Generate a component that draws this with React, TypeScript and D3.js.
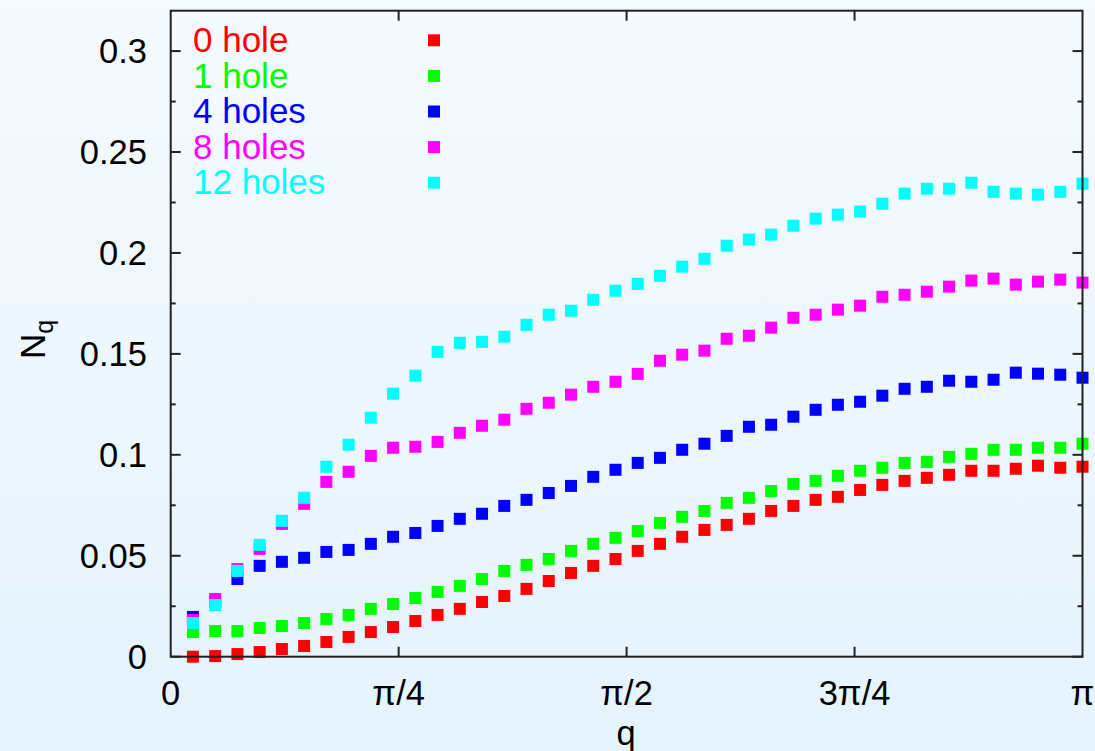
import React from "react";
import * as d3 from "d3";

// Momentum index k: q = k * π / 41, k = 1..41
const kIndex: number[] = d3.range(1, 42);
const NK = 41;

const seriesNames: string[] = ["0 hole", "1 hole", "4 holes", "8 holes", "12 holes"];
const seriesColors: string[] = ["#ff0000", "#00ff00", "#0000ff", "#ff00ff", "#00ffff"];

const hole0: number[] = [
  0.0, 0.0003, 0.0013, 0.0023, 0.0038, 0.0053, 0.0073, 0.0098, 0.0122, 0.0147,
  0.0177, 0.0207, 0.0237, 0.0271, 0.0301, 0.0336, 0.0375, 0.0415, 0.045, 0.0484,
  0.0524, 0.0559, 0.0594, 0.0628, 0.0653, 0.0683, 0.0722, 0.0747, 0.0777, 0.0792,
  0.0826, 0.0851, 0.0871, 0.0886, 0.0901, 0.0921, 0.0921, 0.0931, 0.0946, 0.0936,
  0.0941,
];
const hole1: number[] = [
  0.0122, 0.0127, 0.0127, 0.0142, 0.0152, 0.0167, 0.0187, 0.0207, 0.0237, 0.0261,
  0.0291, 0.0321, 0.0351, 0.0385, 0.0425, 0.0455, 0.0484, 0.0524, 0.0559, 0.0589,
  0.0623, 0.0663, 0.0693, 0.0722, 0.0762, 0.0787, 0.0821, 0.0856, 0.0871, 0.0896,
  0.0921, 0.0936, 0.096, 0.0965, 0.099, 0.1005, 0.1025, 0.1025, 0.1035, 0.1035,
  0.1055,
];
const holes4: number[] = [
  0.0197, 0.027, 0.0385, 0.045, 0.047, 0.049, 0.0519, 0.0529, 0.0559, 0.0594,
  0.0613, 0.0648, 0.0683, 0.0708, 0.0747, 0.0777, 0.0811, 0.0846, 0.0891, 0.0926,
  0.096, 0.0985, 0.1025, 0.1055, 0.1094, 0.1139, 0.1149, 0.1189, 0.1223, 0.1248,
  0.1263, 0.1293, 0.1327, 0.1337, 0.1367, 0.1362, 0.1372, 0.1407, 0.1402, 0.1397,
  0.1382,
];
const holes8: number[] = [
  0.0182, 0.0286, 0.0434, 0.0534, 0.0658, 0.0757, 0.0866, 0.0916, 0.0995, 0.1035,
  0.104, 0.1064, 0.1109, 0.1144, 0.1174, 0.1228, 0.1258, 0.1298, 0.1337, 0.1362,
  0.1401, 0.1466, 0.1496, 0.1516, 0.1575, 0.159, 0.163, 0.1679, 0.1694, 0.1719,
  0.1739, 0.1783, 0.1793, 0.1808, 0.1833, 0.1863, 0.1873, 0.1843, 0.1858, 0.1868,
  0.1853,
];
const holes12: number[] = [
  0.0167, 0.0256, 0.0425, 0.0554, 0.0673, 0.0787, 0.0941, 0.105, 0.1184, 0.1303,
  0.1392, 0.151, 0.1555, 0.156, 0.1585, 0.1644, 0.1694, 0.1714, 0.1768, 0.1813,
  0.1847, 0.1887, 0.1932, 0.1971, 0.2036, 0.2066, 0.2091, 0.2135, 0.217, 0.219,
  0.2205, 0.2244, 0.2294, 0.2318, 0.2318, 0.2348, 0.2303, 0.2294, 0.2289, 0.2303,
  0.2343,
];
const seriesValues: number[][] = [hole0, hole1, holes4, holes8, holes12];

const xTickValues: number[] = [0, Math.PI / 4, Math.PI / 2, (3 * Math.PI) / 4, Math.PI];
const xTickLabels: string[] = ["0", "π/4", "π/2", "3π/4", "π"];
const yMajorTicks: number[] = [0, 0.05, 0.1, 0.15, 0.2, 0.25, 0.3];
const yMinorTicks: number[] = [0.025, 0.075, 0.125, 0.175, 0.225, 0.275];

const W = 1095;
const H = 751;
const margin = { left: 170.7, right: 1082.5, top: 10.7, bottom: 656.7 };
const FONT = "'Liberation Sans', Arial, Helvetica, sans-serif";
const AXIS = "#222";
const MARK = 12;
const TICK_FS = 34.5;
const LEGEND_FS = 35;

export default function App() {
  const x = d3.scaleLinear().domain([0, Math.PI]).range([margin.left, margin.right]);
  const y = d3.scaleLinear().domain([0, 0.32]).range([margin.bottom, margin.top]);

  const yFmt = (v: number) => String(+v.toFixed(3));

  return (
    <svg
      width={W}
      height={H}
      style={{ position: "absolute", left: 0, top: 0, display: "block" }}
      fontFamily={FONT}
    >
      <defs>
        <linearGradient id="bg" x1="0" y1="0" x2="0" y2="1">
          <stop offset="0" stopColor="#f5fafe" />
          <stop offset="1" stopColor="#e5f3fd" />
        </linearGradient>
      </defs>
      <rect x={0} y={0} width={W} height={H} fill="url(#bg)" />

      {/* data points, later series drawn on top */}
      {seriesValues.map((vals, si) => (
        <g key={si} fill={seriesColors[si]}>
          {vals.map((v, i) => (
            <rect
              key={i}
              x={x((kIndex[i] * Math.PI) / NK) - MARK / 2}
              y={y(v) - MARK / 2}
              width={MARK}
              height={MARK}
            />
          ))}
        </g>
      ))}

      {/* frame */}
      <rect
        x={margin.left}
        y={margin.top}
        width={margin.right - margin.left}
        height={margin.bottom - margin.top}
        fill="none"
        stroke={AXIS}
        strokeWidth={2}
      />

      {/* y ticks, mirrored on the right */}
      {yMajorTicks.map((t) => (
        <g key={"ym" + t}>
          <line x1={margin.left} x2={margin.left + 10} y1={y(t)} y2={y(t)} stroke={AXIS} strokeWidth={2} />
          <line x1={margin.right} x2={margin.right - 10} y1={y(t)} y2={y(t)} stroke={AXIS} strokeWidth={2} />
          <text x={147} y={y(t)} dy="0.36em" textAnchor="end" fontSize={TICK_FS} fill="#000">
            {yFmt(t)}
          </text>
        </g>
      ))}
      {yMinorTicks.map((t) => (
        <g key={"yn" + t}>
          <line x1={margin.left} x2={margin.left + 5} y1={y(t)} y2={y(t)} stroke={AXIS} strokeWidth={2} />
          <line x1={margin.right} x2={margin.right - 5} y1={y(t)} y2={y(t)} stroke={AXIS} strokeWidth={2} />
        </g>
      ))}

      {/* x ticks, mirrored on the top */}
      {xTickValues.map((t, i) => (
        <g key={"x" + i}>
          {i > 0 && i < xTickValues.length - 1 && (
            <>
              <line x1={x(t)} x2={x(t)} y1={margin.bottom} y2={margin.bottom - 10} stroke={AXIS} strokeWidth={2} />
              <line x1={x(t)} x2={x(t)} y1={margin.top} y2={margin.top + 10} stroke={AXIS} strokeWidth={2} />
            </>
          )}
          <text x={x(t)} y={705} textAnchor="middle" fontSize={TICK_FS} fill="#000">
            {xTickLabels[i]}
          </text>
        </g>
      ))}

      {/* axis titles */}
      <text x={626} y={745} textAnchor="middle" fontSize={TICK_FS} fill="#000">
        q
      </text>
      <text transform="translate(45,359) rotate(-90)" fontSize={35} fill="#000">
        N
        <tspan fontSize={25} dy={8}>
          q
        </tspan>
      </text>

      {/* legend */}
      {seriesNames.map((name, i) => {
        const base = 52 + i * 35.6;
        return (
          <g key={"lg" + i}>
            <text x={193} y={base} fontSize={LEGEND_FS} fill={seriesColors[i]}>
              {name}
            </text>
            <rect x={434 - MARK / 2} y={base - 11.7 - MARK / 2} width={MARK} height={MARK} fill={seriesColors[i]} />
          </g>
        );
      })}
    </svg>
  );
}
